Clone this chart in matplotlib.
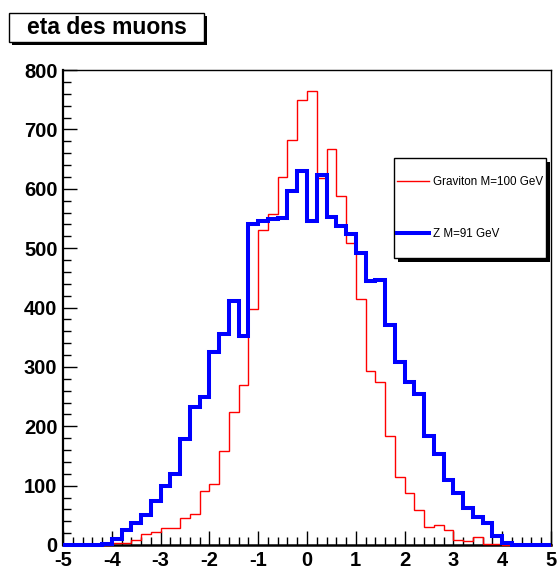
import numpy as np
import matplotlib
matplotlib.use("Agg")
import matplotlib.pyplot as plt
from matplotlib.patches import Rectangle
from matplotlib.ticker import MultipleLocator

plt.rcParams['font.family'] = ['Liberation Sans', 'DejaVu Sans']
plt.rcParams['axes.unicode_minus'] = False

# 50 bins of width 0.2 between eta = -5 and eta = 5
edges = np.linspace(-5, 5, 51)

graviton = [0, 0, 0, 0, 0, 3, 4, 9, 19, 22,
            28, 28, 45, 52, 91, 103, 159, 224, 270, 397,
            530, 557, 620, 682, 749, 764, 618, 667, 588, 508,
            414, 293, 275, 183, 115, 88, 59, 30, 34, 26,
            9, 7, 14, 2, 1, 0, 0, 0, 0, 0]

z_boson = [0, 0, 0, 0, 2, 10, 25, 37, 51, 74,
           100, 119, 179, 233, 249, 325, 356, 411, 352, 541,
           545, 549, 551, 597, 630, 546, 624, 553, 538, 524,
           492, 445, 446, 370, 308, 274, 254, 184, 154, 110,
           88, 62, 47, 37, 15, 3, 0, 0, 0, 0]

labels = ["Graviton M=100 GeV", "Z M=91 GeV"]
title = "eta des muons"

W, H = 560, 569
fig = plt.figure(figsize=(W / 100, H / 100), dpi=100)
fig.patch.set_facecolor("white")

ax = fig.add_axes([63 / W, 1 - 545 / H, (551 - 63) / W, (545 - 70) / H])

h_g = ax.stairs(graviton, edges, color="#ff0000", lw=1.0, clip_on=False,
                zorder=3, label=labels[0])
h_z = ax.stairs(z_boson, edges, color="#0000ff", lw=2.9, clip_on=False,
                zorder=4, label=labels[1])

ax.set_xlim(-5, 5)
ax.set_ylim(0, 800)

ax.xaxis.set_major_locator(MultipleLocator(1))
ax.xaxis.set_minor_locator(MultipleLocator(0.2))
ax.yaxis.set_major_locator(MultipleLocator(100))
ax.yaxis.set_minor_locator(MultipleLocator(20))

ax.tick_params(which="both", direction="in", top=False, right=False,
               color="black", width=1.0)
ax.tick_params(which="major", length=10)
ax.tick_params(which="minor", length=5.5)
ax.tick_params(axis="y", which="major", pad=4)
ax.tick_params(axis="x", which="major", pad=4.5)

for lab in ax.get_xticklabels() + ax.get_yticklabels():
    lab.set_fontweight("bold")
    lab.set_fontsize(14.5)

ax.spines["left"].set_linewidth(1.6)
ax.spines["bottom"].set_linewidth(1.8)
ax.spines["top"].set_linewidth(1.0)
ax.spines["right"].set_linewidth(1.0)
for s in ax.spines.values():
    s.set_color("black")


def px_rect(x0, y0, x1, y1, **kw):
    """Rectangle given in pixel coordinates measured from the top-left corner."""
    r = Rectangle((x0 / W, 1 - y1 / H), (x1 - x0) / W, (y1 - y0) / H,
                  transform=fig.transFigure, **kw)
    fig.patches.append(r)
    return r


# Title box with drop shadow
px_rect(12, 16, 207, 45, facecolor="black", edgecolor="none", zorder=1)
px_rect(9, 13, 204, 42, facecolor="white", edgecolor="black", lw=1.0, zorder=2)
fig.text(106.5 / W, 1 - 27.5 / H, title, ha="center", va="center",
         fontsize=16.5, fontweight="bold", zorder=3)

# Legend box with drop shadow
px_rect(398, 162, 550, 262, facecolor="black", edgecolor="none", zorder=5)
px_rect(394, 158, 546, 258, facecolor="white", edgecolor="black", lw=1.0, zorder=6)
leg = fig.legend([h_g, h_z], labels, loc="upper left",
                 bbox_to_anchor=(397 / W, 1 - 176 / H),
                 frameon=False, borderpad=0, borderaxespad=0,
                 handlelength=2.7, handletextpad=0.4, labelspacing=3.4,
                 fontsize=8.4)
leg.set_zorder(7)

fig.savefig("out.png", dpi=100, facecolor="white")
